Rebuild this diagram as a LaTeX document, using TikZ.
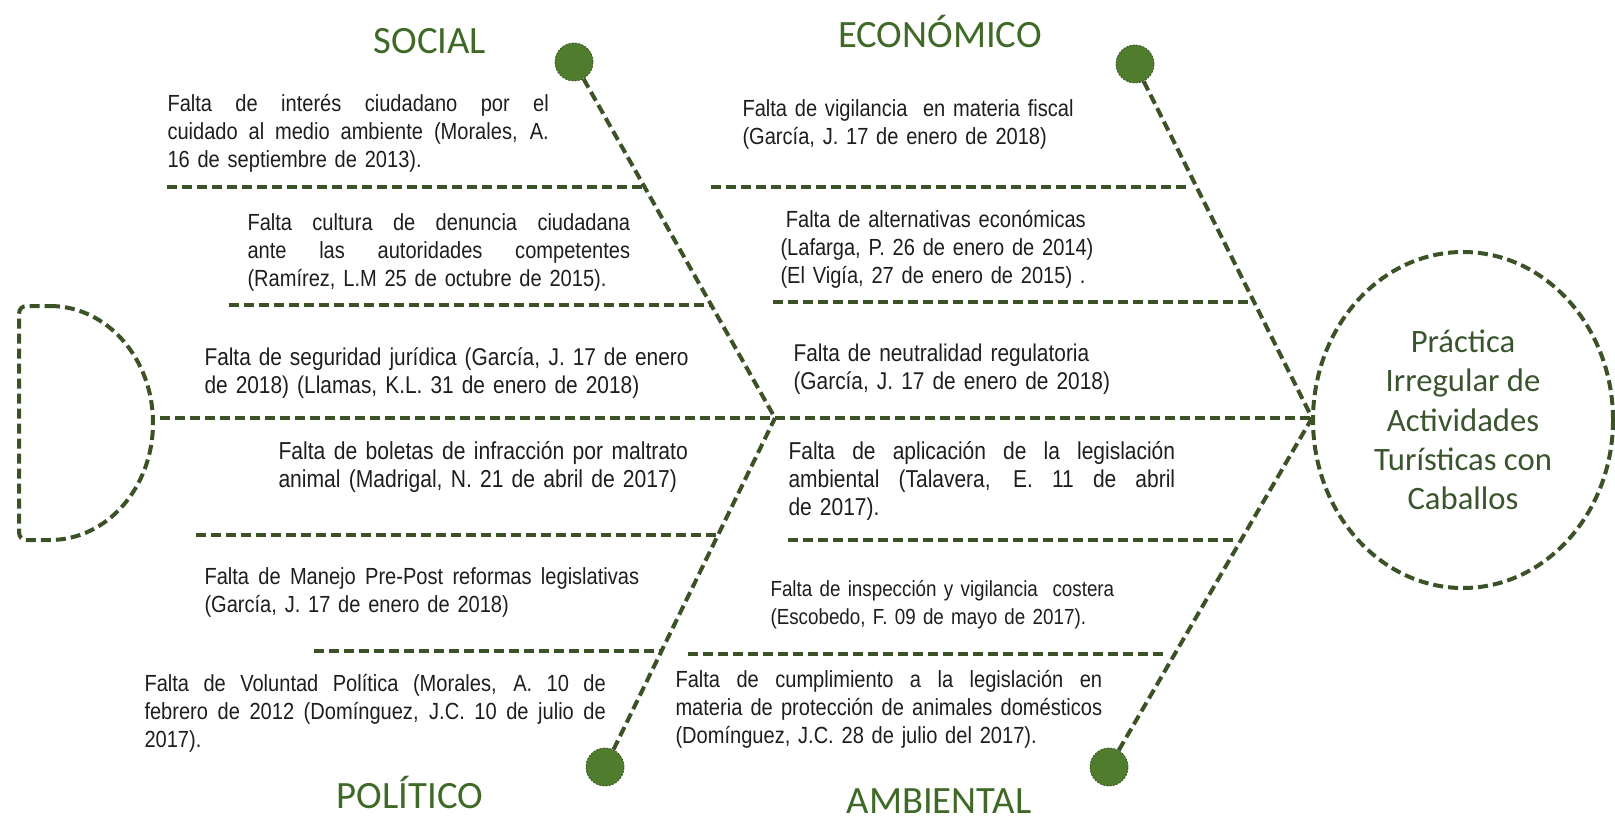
\documentclass[tikz,border=0pt]{standalone}
\usepackage{fontspec}
\setmainfont{Liberation Sans}[FakeStretch=0.86]
\newfontfamily\titlefont{Carlito}
\usetikzlibrary{shapes.geometric}

\definecolor{lineGreen}{RGB}{58,82,38}
\definecolor{dotGreen}{RGB}{80,125,45}
\definecolor{titleGreen}{RGB}{62,105,38}
\definecolor{headGreen}{RGB}{58,84,46}
\definecolor{causeGray}{RGB}{30,30,30}

% justified line of a cause text
\newcommand{\fullline}[1]{{\spaceskip=0pt\xspaceskip=0pt\relax\makebox[\causewd][s]{#1}}}

\tikzset{every picture/.style={line width=0.75pt}}
\tikzset{
  fishline/.style={draw=lineGreen, line width=3pt, dash pattern=on 7.5pt off 3.75pt},
  catdot/.style={circle, fill=dotGreen, draw=lineGreen, line width=0.6pt, dash pattern=on 1.5pt off 1pt, minimum size=28.5pt, inner sep=0pt},
  cathead/.style={anchor=base, inner sep=0pt, text=titleGreen, font=\titlefont\fontsize{29}{34}\selectfont},
  cause/.style={anchor=north west, inner sep=0pt, align=left, text=causeGray, font=\fontsize{17.5}{21}\selectfont, text width=#1, execute at begin node={\def\causewd{#1}}},
}

\begin{document}
\begin{tikzpicture}[x=0.75pt,y=0.75pt,yscale=-1,xscale=1]
\useasboundingbox (0,0) rectangle (1615,820);

%Shape: Ellipse (effect)
\node [ellipse, fishline, minimum width=225pt, minimum height=252pt, inner sep=0pt, align=center, text=headGreen, font=\titlefont\fontsize{24.5}{29.5}\selectfont] (effect) at (1463,420) {Práctica\\Irregular de\\Actividades\\Turísticas con\\Caballos};

%Shape: tail
\draw [fishline] (50,306) arc [start angle=-90, end angle=90, x radius=103, y radius=117] -- (27,540) .. controls (22,540) and (19,537) .. (19,532) -- (19,314) .. controls (19,309) and (22,306) .. (27,306) -- cycle;
\coordinate (tail) at (160,418);
\coordinate (jL) at (775,418);
\coordinate (jR) at (1312,418);

%Flowchart: Connector
\node [catdot] (dS) at (574,62) {};
\node [catdot] (dE) at (1135,64) {};
\node [catdot] (dP) at (605,767) {};
\node [catdot] (dA) at (1109,767) {};

%Straight Lines (spine and bones)
\draw [fishline] (tail) -- (jL) -- (jR);
\draw [fishline] (dS) -- (jL);
\draw [fishline] (dP) -- (jL);
\draw [fishline] (dE) -- (jR);
\draw [fishline] (dA) -- (jR);

%Straight Lines (ribs)
\foreach \n/\xs/\xe/\y in {1/167/644.6/187, 2/229/711.2/305, 3/196/718/535, 4/314/661.5/651,
                           5/711/1188/187, 6/773/1252/302, 7/788/1238/540, 8/688/1164/654}{
  \coordinate (rib\n s) at (\xs,\y);
  \coordinate (rib\n e) at (\xe,\y);
  \draw [fishline] (rib\n s) -- (rib\n e);
}

% Text Node
\node [cathead] (hS) at (430,54) {SOCIAL};
\node [cathead] (hE) at (940,48) {ECONÓMICO};
\node [cathead] (hP) at (410,808) {POLÍTICO};
\node [cathead] (hA) at (939,813) {AMBIENTAL};

% Text Node
\node [cause=286pt] (t1) at (167,94) {\fullline{Falta de interés ciudadano por el}\\\fullline{cuidado al medio ambiente (Morales, A.}\\16 de septiembre de 2013).};
% Text Node
\node [cause=287pt] (t2) at (247,213) {\fullline{Falta cultura de denuncia ciudadana}\\\fullline{ante las autoridades competentes}\\(Ramírez, L.M 25 de octubre de 2015).};
% Text Node
\node [cause=363pt, font=\fontsize{18.2}{21}\selectfont] (t3) at (204,347) {\fullline{Falta de seguridad jurídica (García, J. 17 de enero}\\de 2018) (Llamas, K.L. 31 de enero de 2018)};
% Text Node
\node [cause=307pt, font=\fontsize{18.4}{21}\selectfont] (t4) at (278,441) {\fullline{Falta de boletas de infracción por maltrato}\\animal (Madrigal, N. 21 de abril de 2017)};
% Text Node
\node [cause=326pt] (t5) at (204,567) {\fullline{Falta de Manejo Pre-Post reformas legislativas}\\(García, J. 17 de enero de 2018)};
% Text Node
\node [cause=346pt] (t6) at (144,674) {\fullline{Falta de Voluntad Política (Morales, A. 10 de}\\\fullline{febrero de 2012 (Domínguez, J.C. 10 de julio de}\\2017).};
% Text Node
\node [cause=270pt] (t7) at (742,99) {Falta de vigilancia \ en materia fiscal\\(García, J. 17 de enero de 2018)};
% Text Node
\node [cause=270pt] (t8) at (780,210) {\hspace*{4pt}Falta de alternativas económicas\\(Lafarga, P. 26 de enero de 2014)\\(El Vigía, 27 de enero de 2015) .};
% Text Node
\node [cause=270pt, font=\fontsize{18.2}{21}\selectfont] (t9) at (793,343) {Falta de neutralidad regulatoria\\(García, J. 17 de enero de 2018)};
% Text Node
\node [cause=290pt, font=\fontsize{18.3}{21}\selectfont] (t10) at (788,441) {\fullline{Falta de aplicación de la legislación}\\\fullline{ambiental (Talavera, E. 11 de abril}\\de 2017).};
% Text Node
\node [cause=270pt, font=\fontsize{16.4}{21}\selectfont] (t11) at (770,580) {Falta de inspección y vigilancia \ costera\\(Escobedo, F. 09 de mayo de 2017).};
% Text Node
\node [cause=320pt] (t12) at (675,670) {\fullline{Falta de cumplimiento a la legislación en}\\\fullline{materia de protección de animales domésticos}\\(Domínguez, J.C. 28 de julio del 2017).};

\end{tikzpicture}
\end{document}
